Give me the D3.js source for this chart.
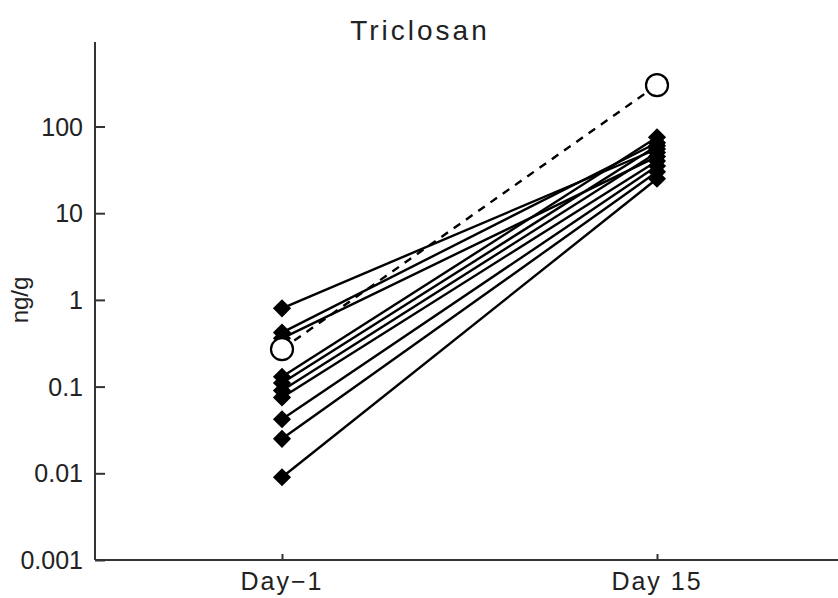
<!DOCTYPE html>
<html>
<head>
<meta charset="utf-8">
<script src="https://cdn.jsdelivr.net/npm/d3@7"></script>
<style>
  body { margin: 0; background: #fff; }
  text { font-family: "Liberation Sans", Arial, sans-serif; fill: #222; }
</style>
</head>
<body>
<svg width="838" height="598"></svg>
<script>
// values (ng/g), one entry per subject
const days = ['Day\u22121', 'Day 15'];
const dayMinus1 = [0.8, 0.42, 0.36, 0.13, 0.11, 0.09, 0.075, 0.042, 0.025, 0.009];
const day15     = [55, 65, 45, 75, 60, 50, 40, 35, 30, 25];
// the open-circle subject, dashed line
const outlierDay = [0.27, 300];
const yTicks = [0.001, 0.01, 0.1, 1, 10, 100];

let svg = d3.select('svg');

const x = d3.scalePoint().domain(days).range([282, 657]);
// one decade is ~86.7px
const y = d3.scaleLog().domain([0.001, 1000]).range([560, 560 - 86.7 * 6]);

// axes
svg.append('line')
  .attr('x1', 95).attr('x2', 95)
  .attr('y1', 42).attr('y2', 560)
  .attr('stroke', '#333').attr('stroke-width', 2);
svg.append('line')
  .attr('x1', 95).attr('x2', 838)
  .attr('y1', 560).attr('y2', 560)
  .attr('stroke', '#333').attr('stroke-width', 2);

let yAxis = svg.append('g').attr('transform', 'translate(95,0)')
  .call(d3.axisRight(y).tickValues(yTicks).tickSize(10).tickFormat(''));
yAxis.select('.domain').remove();
yAxis.selectAll('line').attr('stroke', '#333').attr('stroke-width', 2);

svg.selectAll('.ylab')
  .data(yTicks)
  .enter().append('text')
  .attr('class', 'ylab')
  .attr('x', 83)
  .attr('y', d => y(d) + 9)
  .attr('text-anchor', 'end')
  .attr('font-size', 25)
  .text(d => d);

let xAxis = svg.append('g').attr('transform', 'translate(0,560)')
  .call(d3.axisTop(x).tickSize(6).tickFormat(''));
xAxis.select('.domain').remove();
xAxis.selectAll('line').attr('stroke', '#333').attr('stroke-width', 2);

svg.selectAll('.xlab')
  .data(days)
  .enter().append('text')
  .attr('class', 'xlab')
  .attr('x', d => x(d))
  .attr('y', 590)
  .attr('text-anchor', 'middle')
  .attr('font-size', 25)
  .attr('letter-spacing', 2)
  .text(d => d);

svg.append('text')
  .attr('x', 420).attr('y', 40)
  .attr('text-anchor', 'middle')
  .attr('font-size', 28)
  .attr('letter-spacing', 3)
  .text('Triclosan');

svg.append('text')
  .attr('transform', 'translate(28,300) rotate(-90)')
  .attr('text-anchor', 'middle')
  .attr('font-size', 24)
  .text('ng/g');

// subject lines
let pairs = dayMinus1.map((v, i) => [v, day15[i]]);

svg.selectAll('.subj')
  .data(pairs)
  .enter().append('line')
  .attr('class', 'subj')
  .attr('x1', x(days[0])).attr('x2', x(days[1]))
  .attr('y1', d => y(d[0])).attr('y2', d => y(d[1]))
  .attr('stroke', '#000').attr('stroke-width', 2.4);

svg.append('line')
  .attr('x1', x(days[0])).attr('x2', x(days[1]))
  .attr('y1', y(outlierDay[0])).attr('y2', y(outlierDay[1]))
  .attr('stroke', '#000').attr('stroke-width', 2.4)
  .attr('stroke-dasharray', '8,7');

// diamonds: a square turned 45 degrees
let diamond = d3.symbol().type(d3.symbolSquare).size(165);
pairs.forEach(p => {
  p.forEach((v, j) => {
    svg.append('path')
      .attr('d', diamond)
      .attr('transform', 'translate(' + x(days[j]) + ',' + y(v) + ') rotate(45)')
      .attr('fill', '#000');
  });
});

svg.selectAll('.out')
  .data(outlierDay)
  .enter().append('circle')
  .attr('class', 'out')
  .attr('cx', (d, i) => x(days[i]))
  .attr('cy', d => y(d))
  .attr('r', 11)
  .attr('fill', '#fff')
  .attr('stroke', '#000')
  .attr('stroke-width', 2.2);
</script>
</body>
</html>
